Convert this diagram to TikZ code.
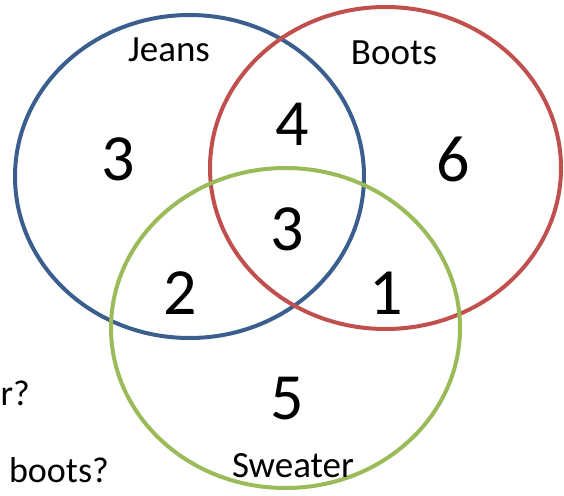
\documentclass[tikz,border=0pt]{standalone}
\usepackage{fontspec}
\setmainfont{Carlito}
\definecolor{jeansblue}{HTML}{3A5F8F}
\definecolor{bootsred}{HTML}{C0504D}
\definecolor{sweatergreen}{HTML}{9BBB59}
\begin{document}
\begin{tikzpicture}[x=1pt,y=-1pt,
    set/.style={line width=4pt},
    num/.style={font=\fontsize{66}{66}\selectfont, inner sep=0pt},
    lbl/.style={font=\fontsize{37}{37}\selectfont, inner sep=0pt, anchor=base},
    qtext/.style={font=\fontsize{36}{36}\selectfont, inner sep=0pt, anchor=base east}]
    \useasboundingbox (0,0) rectangle (564,495);
    \clip (0,0) rectangle (564,495);

    % the three sets
    \draw[set, jeansblue] (189.5,176.5) ellipse (174.5 and 161.5);
    \draw[set, bootsred] (385.5,168) ellipse (175.5 and 161);
    \draw[set, sweatergreen] (285.5,328) ellipse (174.5 and 160);

    \node[lbl] (jeans) at (169,62) {Jeans};
    \node[lbl] (boots) at (394,64) {Boots};
    \node[lbl] (sweater) at (293,477) {Sweater};

    % counts in each region
    \node[num] (onlyJ) at (118,159) {3};
    \node[num] (JB) at (292,124) {4};
    \node[num] (onlyB) at (453,159) {6};
    \node[num] (JBS) at (287,229) {3};
    \node[num] (JS) at (180,293) {2};
    \node[num] (BS) at (386,293) {1};
    \node[num] (onlyS) at (287,399) {5};

    % questions at the left
    \node[qtext] (q1) at (30,405) {r?};
    \node[qtext] (q2) at (109,482) {boots?};
\end{tikzpicture}
\end{document}
